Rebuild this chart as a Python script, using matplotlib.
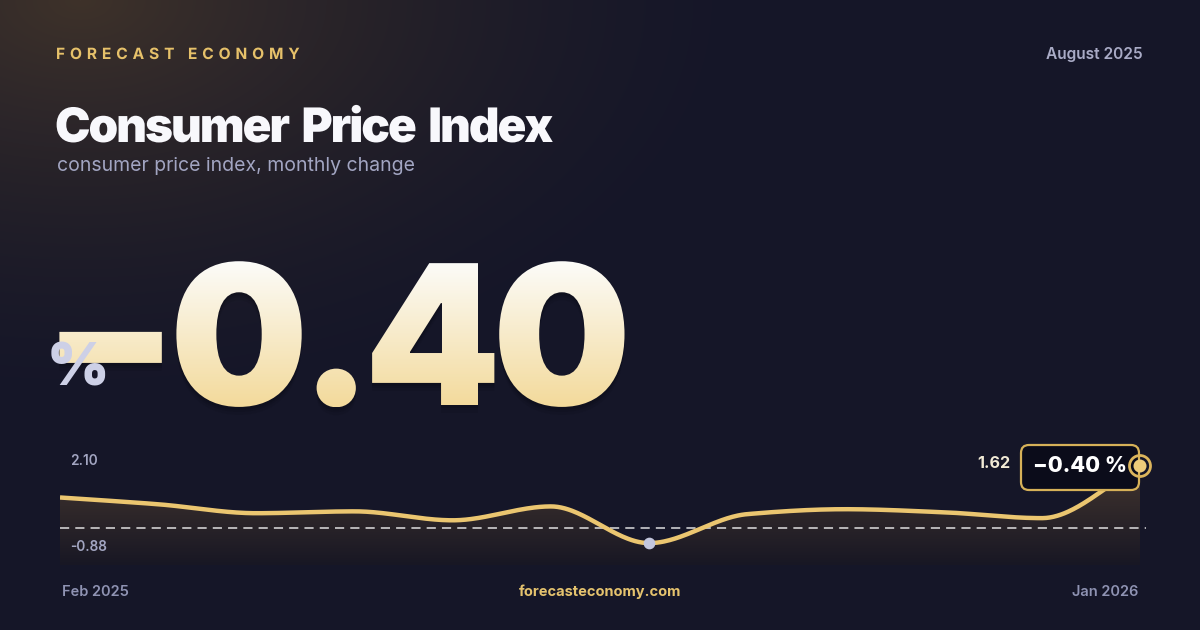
import numpy as np
import matplotlib.pyplot as plt
from matplotlib.textpath import TextPath, text_to_path
from matplotlib.path import Path
from matplotlib.patches import PathPatch, FancyBboxPatch, Circle
from matplotlib.font_manager import FontProperties
from matplotlib.transforms import Affine2D

# datos
months = ['Feb 2025', 'Mar 2025', 'Apr 2025', 'May 2025', 'Jun 2025', 'Jul 2025',
          'Aug 2025', 'Sep 2025', 'Oct 2025', 'Nov 2025', 'Dec 2025', 'Jan 2026']
values = [0.60, 0.38, 0.09, 0.15, -0.14, 0.31, -0.88, 0.06, 0.22, 0.12, -0.07, 1.62]
current = -0.40
axis_max = 2.10
axis_min = -0.88

W, H = 1200, 630
fig = plt.figure(figsize=(12, 6.3), dpi=100)

# fondo
bg = fig.add_axes([0, 0, 1, 1])
bg.set_xlim(0, W)
bg.set_ylim(0, H)
bg.axis('off')
yy, xx = np.mgrid[0:H, 0:W]
base = np.array([21, 22, 40]) / 255
warm = np.array([62, 50, 42]) / 255
d = np.sqrt(((xx - 80) / 700.0) ** 2 + ((yy - 0) / 420.0) ** 2)
g = np.clip(1 - d, 0, 1) ** 1.6
img = base[None, None, :] * (1 - g[..., None]) + warm[None, None, :] * g[..., None]
bg.imshow(img, extent=[0, W, 0, H], origin='upper', aspect='auto', zorder=0)


def px(y):
    return H - y


# texto con espaciado entre letras (en pixeles)
def tracked(s, size, prop, tracking, x, y, ha='left', space_extra=0):
    fp = prop.copy()
    fp.set_size(size)
    paths = []
    pos = 0
    for ch in s:
        w, _, _ = text_to_path.get_text_width_height_descent(ch, fp, ismath=False)
        if ch.strip():
            paths.append(TextPath((pos, 0), ch, size=size, prop=prop))
        else:
            pos += space_extra
        pos += w + tracking
    width = pos - tracking
    if ha == 'right':
        x = x - width
    p = Path.make_compound_path(*paths)
    return Affine2D().translate(x, y).transform_path(p)


inter_bold = FontProperties(family='Inter', weight='bold')
inter_black = FontProperties(family='Inter', weight='black')
bold = dict(family='Inter', weight='bold')

hdr = tracked('FORECAST ECONOMY', 15.5, inter_bold, 4.9, 56, px(59))
bg.add_patch(PathPatch(hdr, facecolor='#e6c16a', edgecolor='none', zorder=2))
bg.text(1143, px(54), 'August 2025', color='#a9abc6', fontsize=11.2, va='center',
        ha='right', family='Inter', weight='semibold')
ttl = tracked('Consumer Price Index', 47.5, inter_black, -2.0, 55, px(142), space_extra=6)
bg.add_patch(PathPatch(ttl, facecolor='#f8f8fc', edgecolor='none', zorder=2))
bg.text(57, px(166), 'consumer price index, monthly change', color='#a2a5c2', fontsize=14,
        va='center', ha='left', family='Inter')

# número grande con degradado
tp = tracked(f'\u2212{abs(current):.2f}', 195, inter_black, -8.5, 43, px(405))
ext = tp.get_extents()
for off, a in [(8, 0.06), (5, 0.08), (3, 0.1)]:
    bg.add_patch(PathPatch(Affine2D().translate(0, -off).transform_path(tp),
                           facecolor='black', edgecolor='none', alpha=a, zorder=2))
patch = PathPatch(tp, facecolor='none', edgecolor='none', zorder=3)
bg.add_patch(patch)
grad = np.linspace(0, 1, 256)[:, None]
top_c = np.array([252, 252, 250]) / 255
bot_c = np.array([243, 218, 155]) / 255
gimg = top_c[None, None, :] * (1 - grad[..., None]) + bot_c[None, None, :] * grad[..., None]
gimg = np.repeat(gimg, 2, axis=1)
im = bg.imshow(gimg, extent=[ext.x0, ext.x1, ext.y0, ext.y1], origin='upper',
               aspect='auto', zorder=3)
im.set_clip_path(patch)
bg.text(78, px(370), '%', color='#cdd0e6', fontsize=43, ha='center', va='center',
        zorder=4, family='Inter', weight='black')

# gráfico
x0, x1, ytop, ybot = 60, 1140, 450, 565
ymin, ymax = -1.59, 2.14
ax = fig.add_axes([x0 / W, (H - ybot) / H, (x1 - x0) / W, (ybot - ytop) / H])
ax.axis('off')


def pchip(x, y, xs):
    x = np.asarray(x, float)
    y = np.asarray(y, float)
    h = np.diff(x)
    dl = np.diff(y) / h
    m = np.zeros_like(y)
    for i in range(1, len(y) - 1):
        if dl[i - 1] * dl[i] > 0:
            w1 = 2 * h[i] + h[i - 1]
            w2 = h[i] + 2 * h[i - 1]
            m[i] = (w1 + w2) / (w1 / dl[i - 1] + w2 / dl[i])
    m[0] = dl[0]
    m[-1] = dl[-1]
    idx = np.clip(np.searchsorted(x, xs) - 1, 0, len(x) - 2)
    t = (xs - x[idx]) / h[idx]
    h00 = 2 * t**3 - 3 * t**2 + 1
    h10 = t**3 - 2 * t**2 + t
    h01 = -2 * t**3 + 3 * t**2
    h11 = t**3 - t**2
    return h00 * y[idx] + h10 * h[idx] * m[idx] + h01 * y[idx + 1] + h11 * h[idx] * m[idx + 1]


xi = np.arange(len(values))
xs = np.linspace(0, len(values) - 1, 600)
ys = pchip(xi, values, xs)

poly = ax.fill_between(xs, ys, ymin, color='none', lw=0)
fgrad = np.linspace(0, 1, 256)[:, None]
c1 = np.array([66, 53, 46]) / 255
c2 = np.array([24, 23, 36]) / 255
fimg = c1[None, None, :] * (1 - fgrad[..., None]) + c2[None, None, :] * fgrad[..., None]
fimg = np.repeat(fimg, 2, axis=1)
fim = ax.imshow(fimg, extent=[0, len(values) - 1, ymin, max(values)], origin='upper',
                aspect='auto', zorder=1)
fim.set_clip_path(poly.get_paths()[0], transform=ax.transData)
ax.set_xlim(0, len(values) - 1)
ax.set_ylim(ymin, ymax)

ax.plot([0, len(values) - 1 + 0.06], [current, current], color='white', lw=1.1,
        ls=(0, (6, 4)), alpha=0.85, zorder=2, clip_on=False)
ax.plot(xs, ys, color='#ebc670', lw=3.2, zorder=3, solid_capstyle='butt')

imin = int(np.argmin(values))
ax.scatter([imin], [values[imin]], s=55, color='#c3c7de', zorder=4)
ax.patch.set_visible(False)

# etiquetas sobre el gráfico
top = fig.add_axes([0, 0, 1, 1])
top.set_xlim(0, W)
top.set_ylim(0, H)
top.axis('off')
top.patch.set_visible(False)

top.text(70, px(461), f'{axis_max:.2f}', color='#a3a6c2', fontsize=9.8, va='center',
         ha='left', family='Inter', weight='semibold')
top.text(70, px(547), f'{axis_min:.2f}', color='#a3a6c2', fontsize=9.8, va='center',
         ha='left', family='Inter', weight='semibold')

top.add_patch(FancyBboxPatch((1021, px(490)), 118, 45, boxstyle='round,pad=0,rounding_size=8',
                             facecolor='#0b0c1a', edgecolor='#d6b158', lw=1.6))
top.text(1080, px(466), f'\u2212{abs(current):.2f} %', color='white', fontsize=15.5,
         ha='center', va='center', family='Inter', weight='heavy')
top.add_patch(Circle((1140, px(466)), 10.5, facecolor='none', edgecolor='#dcb55c', lw=2))
top.add_patch(Circle((1140, px(466)), 6.5, facecolor='#edcb7a', edgecolor='none'))
top.text(1010, px(463), f'{values[-1]:.2f}', color='#f1ead6', fontsize=11.6, ha='right',
         va='center', **bold)

top.text(62, px(592), months[0], color='#8f93b3', fontsize=10.5, ha='left', va='center',
         family='Inter', weight='semibold')
top.text(1138, px(592), months[-1], color='#8f93b3', fontsize=10.5, ha='right', va='center',
         family='Inter', weight='semibold')
top.text(600, px(592), 'forecasteconomy.com', color='#e5c36e', fontsize=10.5, ha='center',
         va='center', **bold)

fig.savefig('out.png', dpi=100)
